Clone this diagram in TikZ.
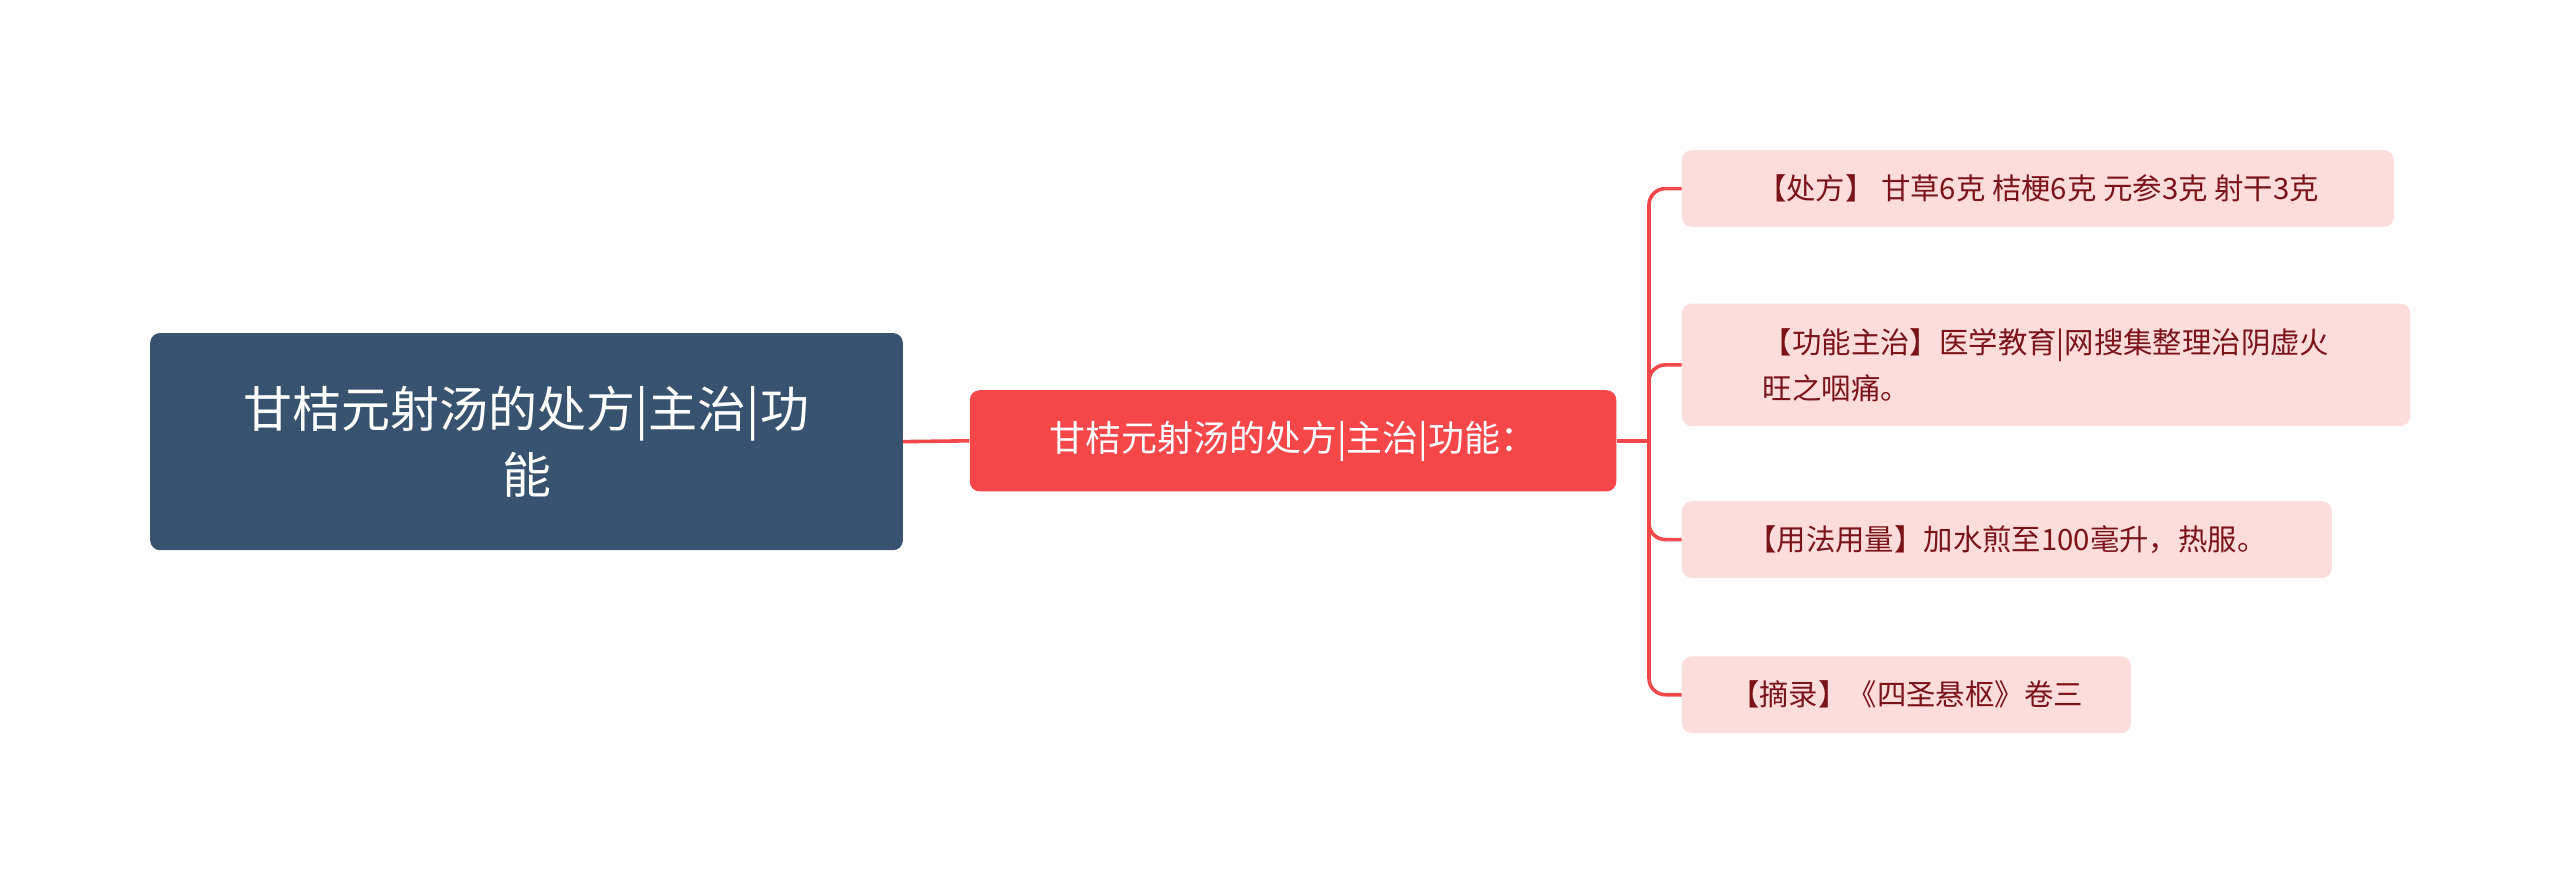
\documentclass[tikz,border=0pt]{standalone}
\usepackage{fontspec}
\setmainfont{Noto Sans CJK SC}
\definecolor{rootc}{HTML}{38536F}
\definecolor{midc}{HTML}{F5474A}
\definecolor{leafc}{HTML}{FDDCDC}
\definecolor{leaft}{HTML}{7A1418}
\definecolor{linec}{HTML}{F0484B}
\tikzset{
  rootbox/.style={fill=rootc,rounded corners=6pt,text=white,font=\fontsize{30}{40}\selectfont,align=center,minimum width=461pt,minimum height=133pt,inner sep=0pt},
  midbox/.style={fill=midc,rounded corners=6pt,text=white,font=\fontsize{22}{28}\selectfont,minimum width=396pt,minimum height=62pt,inner sep=0pt},
  leafbox/.style={fill=leafc,rounded corners=6pt,text=leaft,font=\fontsize{18}{28}\selectfont,align=left,anchor=west,inner xsep=12pt,minimum height=47pt,inner ysep=0pt},
  conn/.style={draw=linec,line width=2.2pt,rounded corners=10pt}
}
\begin{document}
\begin{tikzpicture}[x=1pt,y=-1pt]
\useasboundingbox (0,0) rectangle (1568,541);
\node[rootbox] (root) at (322.5,270.5) {甘桔元射汤的处方|主治|功\\能};
\node[midbox] (mid) at (792,270) {甘桔元射汤的处方|主治|功能：};
\node[leafbox,minimum width=436pt] (l1) at (1030,115.5) {【处方】 甘草6克 桔梗6克 元参3克 射干3克};
\node[leafbox,minimum width=446pt,minimum height=75pt] (l2) at (1030,223.5) {【功能主治】医学教育|网搜集整理治阴虚火\\旺之咽痛。};
\node[leafbox,minimum width=398pt] (l3) at (1030,330.5) {【用法用量】加水煎至100毫升，热服。};
\node[leafbox,minimum width=275pt] (l4) at (1030,425.5) {【摘录】《四圣悬枢》卷三};
\coordinate (j) at (1010,270);
\draw[conn] (root.east) -- (mid.west);
\draw[conn] (mid.east) -- (j);
\foreach \n in {l1,l2,l3,l4}{
  \draw[conn] (j) |- (\n.west);
}
\end{tikzpicture}
\end{document}
